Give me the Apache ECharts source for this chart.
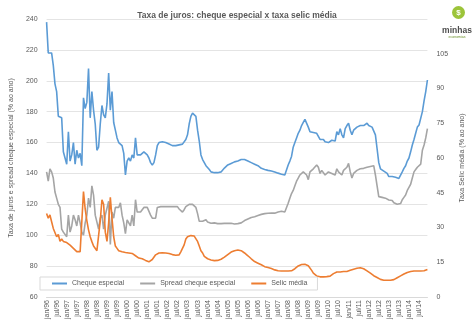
<!DOCTYPE html>
<html><head><meta charset="utf-8">
<script src="https://cdn.jsdelivr.net/npm/echarts@6/dist/echarts.min.js"></script>
<style>html,body{margin:0;padding:0;background:#fff}#c{width:474px;height:327px}</style>
</head><body><div id="c"></div>
<script>
// Monthly data jan/96 .. dez/14
const monthNames = ['jan','fev','mar','abr','mai','jun','jul','ago','set','out','nov','dez'];
const firstYear = 1996, lastYear = 2014;

const chequeEspecial = [
 238,218,217,218,210,198,193,177,176,176,154,150,
 146,167,148,152,160,146,155,150,153,145,189,182,
 186,208,176,193,181,172,155,157,172,184,178,176,
 185,205,181,193,173,168,163,160,161,158,153,139,
 148,150,148,152,150,163,152,152,152,153,154,153,
 152,150,147,145.5,147,152,158,160,160.5,160.5,160,160,
 160,159,158.5,158,158.5,158,158,158.5,159,159,159.5,162,
 165,172,177,179,179,177,168,161,152,149,147,145,
 144,142.5,141,140.5,140.5,140.5,140.5,140.5,141,142,143.5,144.5,
 145.5,146,146.5,147,147.5,147.5,148,148.5,149,149.3,149,148.5,
 148,147.5,147,146.6,146,145.5,145,144,143.3,143,142.6,142.3,
 142,141.8,141.6,141.3,141,140.6,140.2,139.8,139.5,139.3,139,138.5,
 145.5,148,151,157,160,163,166,168,171,173,175,174,
 170,167,168,166.5,167,166,167,162,161.5,162,160.5,161,
 160,161,161.5,162,161,167,165,169,165,163,169,171,
 172.5,168,165,168,169,170,171,171,171.4,171,171.5,172.5,
 171,170,170,170,165,156,147,143,142,141.5,140.5,140,
 138,138.5,138,137,137.5,137,136.8,138,141,143.3,145,148,
 150,154,158.4,162,166,170,171.4,172.5,180,187,193,200.5
];
const spreadCheque = [
 141,135,143,141,137,128,124,120,118,104,102,101,
 99,113,102,106,113,110,106,113,108,102,100,108,
 113,124,118,132,126,113,113,104,111,113,104,113,
 112,122,94,115,111,118,119,118,121,113,108,101,
 110,111,106,113,106,123,115,115,115,116,118,118.5,
 118,117,113,111,111,111,118,118.5,118.5,118.5,118.5,118.5,
 118.5,118.5,118.5,118.8,118.5,118.5,118.5,117,116,115,116.5,118.5,
 119.5,120,120,120,119.5,118,114,109,108.5,109,110,110,
 108.5,108,107.7,107.7,108,107.7,107.5,107.7,107.5,107.7,107.7,107.5,
 107.7,107.5,107.7,107.5,107.3,107.5,107.5,107.5,108,109,109.5,110,
 110.5,111,111.5,111.8,112,112.3,112.8,113.2,113.5,113.8,114,114,
 114.2,114.3,114.3,114.5,114.3,114.7,115,115.2,115.5,116,115,114.5,
 120.7,124,127,129,132,135,137,139,140,141,141,139,
 136,141,140,143,142,145.5,144,140,142,141,139,140,
 141,141,140,141,139,143,141,142,139,142,141,144,
 146.5,141,137,140,141,142,142.5,143,143,143.3,143.3,144,
 143.5,144.5,145.5,145,139,132,125,125,124.5,124,124,123.5,
 122.8,122.5,122.5,121,120.5,120,119.6,120.5,123,124.5,126,129,
 131,133,137,141,142.5,144,145,146,155,158.4,163,169
];
const selicMedia = [
 36,34,35.4,32.5,29.6,29,26,27,24,25,24,24.5,
 23.5,24,22.4,23,21,20.5,19.6,20,19.6,19,45.5,38,
 33,29,26,23.9,22,21.5,20,20.5,33,42,40,28,
 24,32,43,34,26,22,21,20,19.6,19.5,19.2,19.2,
 19,19,18.9,18.8,18.2,17.8,17,16.8,16.5,16.5,16,15.8,
 15.3,15.2,15.5,16.2,16.8,18.2,18.9,19,19.1,19.1,19,19,
 19,18.8,18.5,18.3,18.2,18,18,18.2,19.5,21,22.5,25,
 26,26.5,26.5,26.5,26.3,25.5,24,22,20,19,17.5,16.7,
 16.5,16.3,16,15.8,15.7,15.7,15.8,16,16.3,16.7,17.2,17.8,
 18.3,18.8,19.4,19.7,20,20.3,20.3,20.2,20,19.7,19,18.3,
 17.8,17.2,16.5,15.8,15.3,14.8,14.6,14.2,13.9,13.3,13.1,12.9,
 12.7,12.6,12.3,12,11.7,11.4,11.3,11.2,11.2,11.2,11.2,11.2,
 11.2,11.2,11.3,11.6,12.2,12.9,13.4,13.8,14,14.1,14.1,13.8,
 13.5,12.7,11.5,10.3,9.6,9.1,8.8,8.7,8.7,8.7,8.7,8.8,
 8.8,9,9.5,10.1,10.5,10.8,10.8,10.8,10.9,11,11,11,
 11.2,11.5,11.8,12,12.3,12.4,12.5,12.6,12.5,12.2,11.8,11.3,
 10.8,10.3,9.7,9.2,8.8,8.4,8,7.6,7.4,7.2,7.2,7.2,
 7.2,7.2,7.2,7.5,7.9,8.3,8.7,9.1,9.5,9.9,10.3,10.6,
 10.8,11,11.2,11.2,11.2,11.2,11.2,11.2,11.2,11.3,11.6,11.9
];
const seriesNames = ['Cheque especial','Spread cheque especial','Selic média'];
const leftTicks = {min:60, max:240, interval:20};
const rightTicks = {min:0, max:120, interval:15};

const categories = [];
for (let y = firstYear; y <= lastYear; y++) {
  for (let m = 0; m < 12; m++) categories.push(monthNames[m] + '/' + String(y).slice(2));
}

const chart = echarts.init(document.getElementById('c'));
const font = 'Liberation Sans';
chart.setOption({
  animation: false,
  textStyle: {fontFamily: font},
  title: {text: 'Taxa de juros: cheque especial x taxa selic média', left: 'center', top: 6,
    textStyle: {fontSize: 8.5, fontWeight: 'bold', color: '#595959', fontFamily: font}},
  grid: {left: 36, right: 30, top: 19, bottom: 30},
  legend: {data: seriesNames, left: 40, top: 277, padding: [3, 10, 3, 12], itemGap: 16,
    itemWidth: 15, itemHeight: 2, icon: 'rect', borderColor: '#d9d9d9', borderWidth: 1,
    backgroundColor: '#fff', textStyle: {fontSize: 7, color: '#595959', fontFamily: font}},
  xAxis: {type: 'category', data: categories, boundaryGap: false,
    axisLine: {lineStyle: {color: '#d9d9d9'}}, axisTick: {show: false},
    axisLabel: {rotate: 90, interval: 5, fontSize: 7, color: '#595959', margin: 3}},
  yAxis: [
    {type: 'value', min: leftTicks.min, max: leftTicks.max, interval: leftTicks.interval,
      name: 'Taxa de juros e spread cheque especial (% ao ano)', nameLocation: 'middle', nameRotate: 90, nameGap: 25,
      nameTextStyle: {fontSize: 7, color: '#595959'},
      axisLine: {show: false}, axisTick: {show: false},
      axisLabel: {fontSize: 7, color: '#595959', margin: 9},
      splitLine: {lineStyle: {color: '#e4e4e4', width: 1}}},
    {type: 'value', min: rightTicks.min, max: rightTicks.max, interval: rightTicks.interval, position: 'right',
      name: 'Taxa Selic média (% ao ano)', nameLocation: 'middle', nameRotate: 90, nameGap: 25,
      nameTextStyle: {fontSize: 7, color: '#595959'},
      axisLine: {show: false}, axisTick: {show: false},
      axisLabel: {fontSize: 7, color: '#595959', margin: 9, showMaxLabel: false},
      splitLine: {show: false}}
  ],
  series: [
    {name: seriesNames[0], type: 'line', data: chequeEspecial, symbol: 'none', color: '#5b9bd5', lineStyle: {width: 1.6}},
    {name: seriesNames[1], type: 'line', data: spreadCheque, symbol: 'none', color: '#a5a5a5', lineStyle: {width: 1.6}},
    {name: seriesNames[2], type: 'line', yAxisIndex: 1, data: selicMedia, symbol: 'none', color: '#ed7d31', lineStyle: {width: 1.6}}
  ],
  graphic: [
    {type: 'circle', shape: {cx: 458.5, cy: 12.5, r: 6.5}, style: {fill: '#9cc43a'}},
    {type: 'text', x: 458.5, y: 12.5, style: {text: '$', fill: '#fff', font: 'bold 8px Liberation Sans', align: 'center', verticalAlign: 'middle'}},
    {type: 'text', x: 457, y: 31, style: {text: 'minhas', fill: '#4d4d4d', font: 'bold 8.5px Liberation Sans', align: 'center', verticalAlign: 'middle'}},
    {type: 'text', x: 457, y: 37, style: {text: 'economias', fill: '#6a8f2a', font: '3.5px Liberation Sans', align: 'center', verticalAlign: 'middle'}}
  ]
});
</script></body></html>
